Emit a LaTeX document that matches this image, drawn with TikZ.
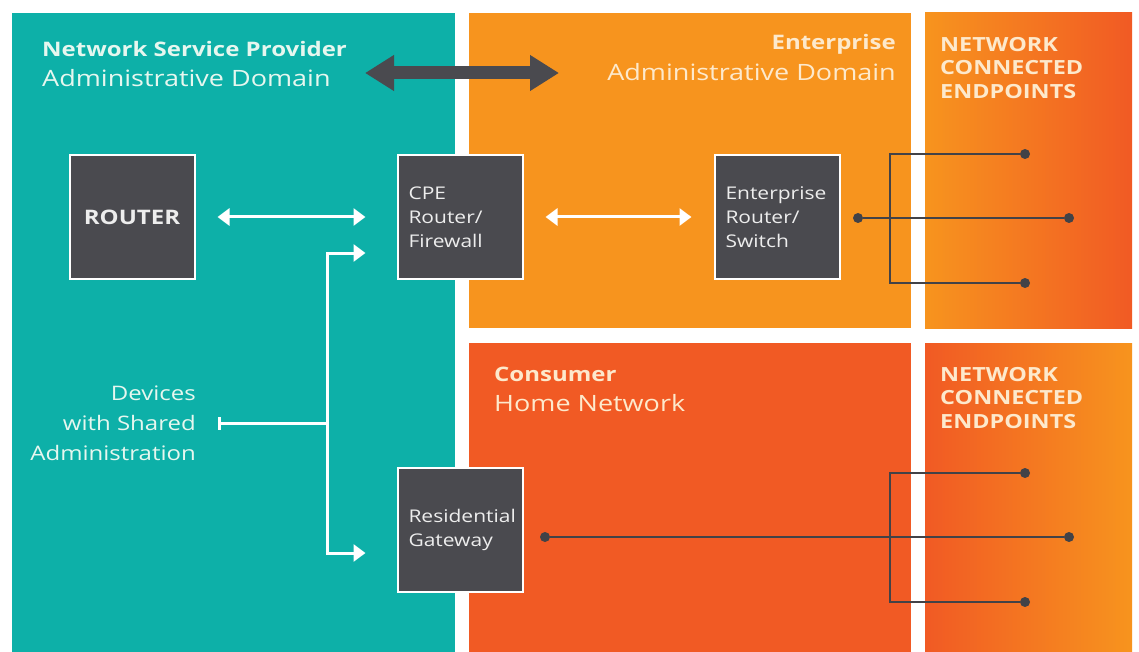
\documentclass[tikz,border=0pt]{standalone}
\usepackage{fontspec}
\setmainfont[FakeStretch=1.2]{Open Sans}
\usetikzlibrary{arrows.meta}
\usetikzlibrary{positioning}

\definecolor{nspteal}{HTML}{0DB0A8}
\definecolor{entorange}{HTML}{F7941E}
\definecolor{homered}{HTML}{F15A24}
\definecolor{devgrey}{HTML}{4A4A4F}
\definecolor{wiregrey}{HTML}{424247}
\definecolor{mint}{HTML}{E6F7EF}
\definecolor{cream}{HTML}{FDE9CC}

\begin{document}
\begin{tikzpicture}
      [x=1pt,y=-1pt,
        box/.style={draw=white,line width=2pt,fill=devgrey,text=white!93!black,
          minimum width=125pt,minimum height=124pt,text width=103pt,inner xsep=11pt,
          align=left,font=\fontsize{17.5}{24}\selectfont},
          heading/.style={inner sep=0pt,font=\fontsize{20}{24}\selectfont},
          subheading/.style={inner sep=0pt,font=\fontsize{22.5}{26}\selectfont},
          endtitle/.style={inner sep=0pt,text=cream,align=left,font=\fontsize{19.5}{23.5}\selectfont\bfseries},
          link/.style={draw=white,line width=3pt},
          tip/.tip={Triangle[length=12pt,width=17pt]},
          wire/.style={draw=wiregrey,line width=2.5pt},
          dot/.style={circle,fill=wiregrey,minimum size=10pt,inner sep=0pt}]
      \fill[white] (0,0) rectangle (1139,652);
      \fill[nspteal] (12,13) rectangle (455,652);
      \fill[entorange] (469,13) rectangle (911,328);
      \fill[homered] (469,343) rectangle (911,652);
      \shade[left color=entorange,right color=homered] (925,13) rectangle (1132,328);
      \shade[left color=homered,right color=entorange] (925,343) rectangle (1132,652);

      \node[heading,text=mint,anchor=base west] (nsp) at (42,57) {\textbf{Network Service Provider}};
      \node[subheading,text=mint,anchor=base west] (nspdomain) at (42,87) {Administrative Domain};
      \node[heading,text=cream,anchor=base east] (ent) at (896,50) {\textbf{Enterprise}};
      \node[subheading,text=cream,anchor=base east] (entdomain) at (896,81) {Administrative Domain};
      \node[heading,text=cream,anchor=base west] (home) at (494,381) {\textbf{Consumer}};
      \node[subheading,text=cream,anchor=base west] (homenet) at (494,411) {Home Network};
      \node[endtitle,anchor=north west] (entends) at (940,37) {NETWORK\\CONNECTED\\ENDPOINTS};
      \node[endtitle,anchor=north west] (homeends) at (940,367) {NETWORK\\CONNECTED\\ENDPOINTS};

      \coordinate (peerl) at (365,73);
      \coordinate (peerr) at (559,73);
      \draw[draw=devgrey,line width=13pt,{Triangle[length=29pt,width=34pt]}-{Triangle[length=29pt,width=34pt]}] (peerl) -- (peerr);

      \node[box,align=center,text width=,inner xsep=0pt,font=\fontsize{20}{24}\selectfont\bfseries] (router) at (132,217) {ROUTER};
      \node[box] (cpe) at (460,217) {CPE\\Router/\\Firewall};
      \node[box] (ers) at (777,217) {Enterprise\\Router/\\Switch};
      \node[box] (rg) at (460,530) {Residential\\Gateway};

      \node[heading,text=mint,anchor=east,align=right,font=\fontsize{20}{30}\selectfont] (shared) at (196,423) {Devices\\with Shared\\Administration};
      \coordinate (split) at (327,423);

      \draw[link,tip-tip,shorten <=22pt,shorten >=31pt] (router) -- (cpe);
      \draw[link,tip-tip,shorten <=22pt,shorten >=22pt] (cpe) -- (ers);
      \draw[link,{Bar[width=13pt]}-] ([xshift=22pt]shared.east) -- (split);
      \draw[link,-tip] (split) |- ([xshift=-31pt,yshift=-36pt]cpe.west);
      \draw[link,-tip] (split) |- ([xshift=-31pt,yshift=-23pt]rg.west);

      \node[dot] (eport) at (858,218) {};
      \node[dot] (e1) at (1025,154) {};
      \node[dot] (e2) at (1069,218) {};
      \node[dot] (e3) at (1025,283) {};
      \coordinate (ebus) at (890,218);
      \draw[wire] (eport) -- (e2);
      \draw[wire] (e1) -| (ebus) |- (e3);

      \node[dot] (rport) at (545,537) {};
      \node[dot] (c1) at (1025,473) {};
      \node[dot] (c2) at (1069,537) {};
      \node[dot] (c3) at (1025,602) {};
      \coordinate (cbus) at (890,537);
      \draw[wire] (rport) -- (c2);
      \draw[wire] (c1) -| (cbus) |- (c3);
\end{tikzpicture}
\end{document}
